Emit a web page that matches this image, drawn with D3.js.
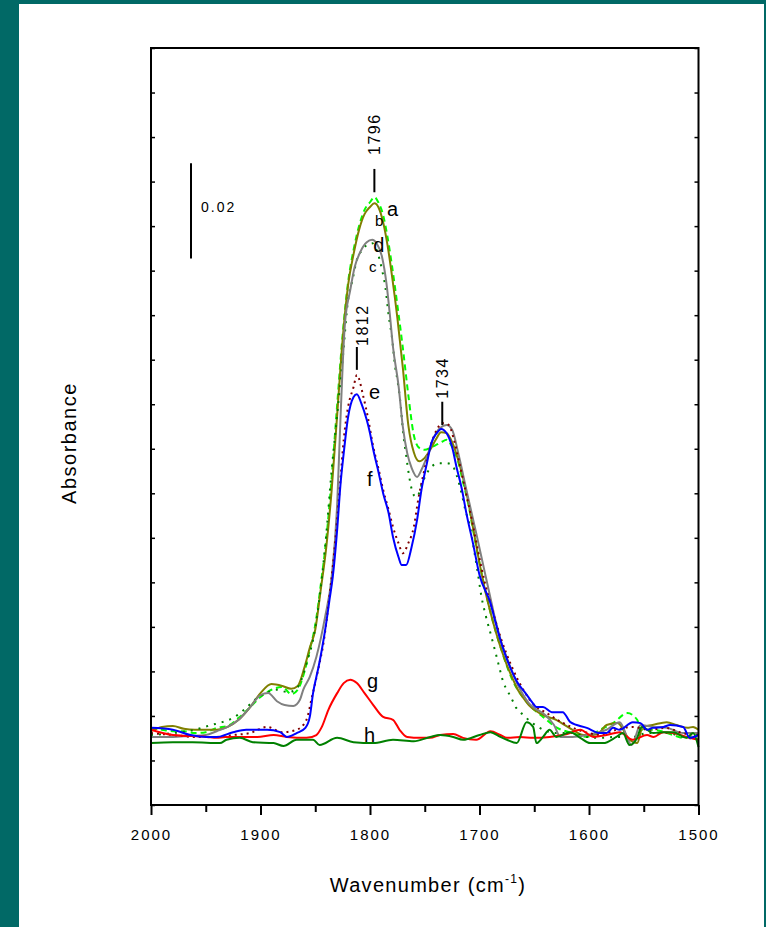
<!DOCTYPE html>
<html>
<head>
<meta charset="utf-8">
<script src="https://cdn.jsdelivr.net/npm/d3@7"></script>
<style>
body{margin:0;background:#fff}
svg{display:block}
text{font-family:"Liberation Sans",Arial,sans-serif;fill:#000}
</style>
</head>
<body>
<script>
// spectra: [wavenumber, absorbance]
const curveA=[[2000,0.0155],[1990,0.0164],[1980,0.0166],[1970,0.0160],[1960,0.0158],[1950,0.0158],[1940,0.0158],[1930,0.0164],[1920,0.0179],[1910,0.0204],[1900,0.0235],[1890,0.0254],[1880,0.0250],[1872,0.0244],[1866,0.0250],[1860,0.0288],[1855,0.0330],[1850,0.0368],[1845,0.0452],[1840,0.0540],[1835,0.0662],[1830,0.0819],[1825,0.0977],[1820,0.1092],[1815,0.1157],[1810,0.1208],[1805,0.1241],[1800,0.1256],[1796,0.1264],[1792,0.1254],[1788,0.1224],[1784,0.1176],[1780,0.1113],[1775,0.1023],[1770,0.0918],[1765,0.0798],[1760,0.0741],[1755,0.0722],[1750,0.0729],[1745,0.0746],[1740,0.0767],[1735,0.0783],[1730,0.0781],[1725,0.0762],[1720,0.0729],[1715,0.0687],[1710,0.0634],[1705,0.0571],[1700,0.0508],[1695,0.0452],[1690,0.0405],[1685,0.0363],[1680,0.0326],[1675,0.0294],[1670,0.0267],[1665,0.0242],[1660,0.0225],[1655,0.0210],[1650,0.0200],[1640,0.0187],[1630,0.0179],[1625,0.0172],[1615,0.0158],[1605,0.0147],[1596,0.0147],[1590,0.0153],[1584,0.0168],[1574,0.0172],[1563,0.0137],[1556,0.0130],[1551,0.0164],[1542,0.0168],[1529,0.0174],[1520,0.0168],[1510,0.0162],[1505,0.0164],[1500,0.0158]]
const curveB=[[2000,0.0162],[1990,0.0158],[1980,0.0155],[1970,0.0155],[1960,0.0151],[1950,0.0153],[1940,0.0162],[1930,0.0166],[1920,0.0183],[1910,0.0204],[1900,0.0227],[1890,0.0242],[1880,0.0248],[1872,0.0233],[1866,0.0242],[1860,0.0279],[1855,0.0326],[1850,0.0378],[1845,0.0462],[1840,0.0557],[1835,0.0687],[1830,0.0840],[1825,0.0987],[1820,0.1098],[1815,0.1166],[1810,0.1216],[1805,0.1250],[1800,0.1266],[1796,0.1277],[1792,0.1264],[1788,0.1239],[1784,0.1193],[1780,0.1134],[1775,0.1050],[1770,0.0960],[1765,0.0861],[1760,0.0777],[1755,0.0750],[1750,0.0746],[1745,0.0750],[1740,0.0756],[1735,0.0762],[1730,0.0767],[1725,0.0752],[1720,0.0725],[1715,0.0678],[1710,0.0630],[1705,0.0567],[1700,0.0508],[1690,0.0405],[1680,0.0326],[1670,0.0263],[1660,0.0225],[1650,0.0200],[1642,0.0185],[1629,0.0162],[1615,0.0151],[1602,0.0143],[1590,0.0158],[1578,0.0172],[1565,0.0193],[1556,0.0179],[1553,0.0158],[1542,0.0158],[1523,0.0147],[1514,0.0141],[1500,0.0151]]
const curveC=[[2000,0.0147],[1980,0.0151],[1960,0.0158],[1945,0.0168],[1935,0.0174],[1925,0.0183],[1915,0.0200],[1905,0.0221],[1895,0.0235],[1885,0.0242],[1875,0.0237],[1868,0.0242],[1862,0.0267],[1857,0.0305],[1852,0.0347],[1845,0.0456],[1840,0.0567],[1835,0.0704],[1830,0.0819],[1825,0.0935],[1820,0.1061],[1816,0.1103],[1812,0.1145],[1807,0.1166],[1803,0.1176],[1798,0.1180],[1794,0.1166],[1789,0.1124],[1786,0.1088],[1783,0.1029],[1780,0.0983],[1777,0.0920],[1775,0.0893],[1772,0.0840],[1770,0.0788],[1767,0.0735],[1764,0.0687],[1760,0.0651],[1757,0.0647],[1753,0.0672],[1748,0.0697],[1744,0.0710],[1737,0.0718],[1730,0.0718],[1725,0.0714],[1721,0.0693],[1716,0.0651],[1713,0.0620],[1709,0.0588],[1705,0.0536],[1702,0.0494],[1698,0.0435],[1694,0.0395],[1690,0.0361],[1686,0.0326],[1682,0.0290],[1678,0.0256],[1675,0.0242],[1671,0.0225],[1667,0.0206],[1660,0.0189],[1645,0.0162],[1630,0.0151],[1615,0.0151],[1602,0.0143],[1590,0.0141],[1575,0.0143],[1560,0.0143],[1547,0.0151],[1529,0.0151],[1514,0.0143],[1500,0.0137]]
const curveD=[[2000,0.0143],[1990,0.0143],[1980,0.0143],[1965,0.0145],[1950,0.0147],[1940,0.0155],[1930,0.0164],[1920,0.0179],[1910,0.0204],[1900,0.0231],[1893,0.0235],[1885,0.0218],[1878,0.0210],[1870,0.0208],[1864,0.0221],[1861,0.0242],[1855,0.0269],[1849,0.0311],[1841,0.0395],[1835,0.0479],[1830,0.0630],[1827,0.0809],[1823,0.1008],[1818,0.1082],[1814,0.1130],[1809,0.1161],[1803,0.1182],[1798,0.1187],[1794,0.1180],[1789,0.1151],[1785,0.1096],[1782,0.1033],[1779,0.0962],[1774,0.0882],[1770,0.0794],[1766,0.0739],[1762,0.0708],[1757,0.0689],[1753,0.0704],[1748,0.0731],[1742,0.0771],[1736,0.0792],[1730,0.0798],[1725,0.0788],[1719,0.0735],[1712,0.0662],[1703,0.0571],[1695,0.0487],[1690,0.0435],[1685,0.0384],[1680,0.0342],[1675,0.0309],[1670,0.0279],[1665,0.0252],[1660,0.0231],[1655,0.0214],[1650,0.0204],[1640,0.0189],[1632,0.0168],[1626,0.0143],[1615,0.0143],[1602,0.0147],[1584,0.0158],[1572,0.0174],[1561,0.0126],[1553,0.0168],[1542,0.0164],[1529,0.0162],[1514,0.0151],[1500,0.0151]]
const curveE=[[2000,0.0151],[1980,0.0147],[1960,0.0143],[1940,0.0143],[1925,0.0147],[1910,0.0151],[1894,0.0164],[1880,0.0153],[1867,0.0158],[1858,0.0179],[1853,0.0227],[1847,0.0288],[1842,0.0347],[1838,0.0420],[1834,0.0500],[1830,0.0599],[1827,0.0683],[1824,0.0767],[1820,0.0836],[1815,0.0878],[1812,0.0903],[1806,0.0857],[1802,0.0815],[1797,0.0752],[1792,0.0704],[1788,0.0662],[1783,0.0620],[1779,0.0584],[1774,0.0550],[1770,0.0529],[1765,0.0550],[1760,0.0584],[1756,0.0641],[1751,0.0697],[1745,0.0752],[1739,0.0788],[1734,0.0802],[1728,0.0798],[1724,0.0773],[1719,0.0725],[1713,0.0662],[1707,0.0599],[1701,0.0529],[1695,0.0466],[1690,0.0424],[1680,0.0347],[1670,0.0288],[1660,0.0242],[1650,0.0210],[1640,0.0195],[1625,0.0174],[1610,0.0158],[1600,0.0151],[1590,0.0147],[1575,0.0158],[1560,0.0164],[1545,0.0158],[1530,0.0162],[1515,0.0151],[1500,0.0147]]
const curveF=[[2000,0.0162],[1980,0.0158],[1964,0.0147],[1949,0.0143],[1940,0.0143],[1925,0.0153],[1913,0.0158],[1894,0.0158],[1882,0.0153],[1876,0.0143],[1867,0.0151],[1859,0.0162],[1855,0.0185],[1852,0.0235],[1849,0.0269],[1847,0.0290],[1844,0.0326],[1840,0.0382],[1837,0.0431],[1834,0.0479],[1830,0.0578],[1827,0.0672],[1824,0.0739],[1820,0.0815],[1815,0.0857],[1812,0.0863],[1808,0.0844],[1803,0.0809],[1800,0.0781],[1797,0.0746],[1792,0.0697],[1788,0.0655],[1783,0.0613],[1779,0.0563],[1774,0.0521],[1771,0.0504],[1767,0.0504],[1762,0.0542],[1757,0.0599],[1753,0.0662],[1748,0.0718],[1744,0.0760],[1739,0.0781],[1735,0.0790],[1730,0.0781],[1725,0.0752],[1721,0.0710],[1716,0.0662],[1712,0.0613],[1706,0.0550],[1700,0.0483],[1690,0.0424],[1686,0.0389],[1681,0.0347],[1677,0.0319],[1671,0.0284],[1665,0.0256],[1658,0.0235],[1652,0.0216],[1648,0.0206],[1642,0.0206],[1634,0.0195],[1624,0.0195],[1617,0.0174],[1602,0.0162],[1590,0.0151],[1584,0.0151],[1578,0.0162],[1572,0.0158],[1560,0.0174],[1553,0.0172],[1547,0.0158],[1542,0.0162],[1532,0.0164],[1526,0.0168],[1514,0.0164],[1508,0.0141],[1500,0.0147]]
const curveG=[[2000,0.0158],[1980,0.0147],[1949,0.0143],[1940,0.0141],[1932,0.0143],[1916,0.0143],[1903,0.0143],[1888,0.0147],[1876,0.0143],[1858,0.0141],[1849,0.0147],[1844,0.0164],[1838,0.0200],[1830,0.0235],[1824,0.0256],[1818,0.0263],[1812,0.0256],[1805,0.0235],[1797,0.0210],[1788,0.0185],[1779,0.0179],[1773,0.0158],[1766,0.0143],[1754,0.0141],[1745,0.0141],[1736,0.0147],[1724,0.0149],[1715,0.0141],[1703,0.0137],[1690,0.0155],[1681,0.0147],[1675,0.0141],[1663,0.0143],[1651,0.0141],[1636,0.0143],[1620,0.0149],[1608,0.0158],[1596,0.0143],[1584,0.0147],[1572,0.0153],[1560,0.0137],[1547,0.0147],[1541,0.0143],[1532,0.0153],[1523,0.0151],[1511,0.0143],[1500,0.0137]]
const curveH=[[2000,0.0130],[1980,0.0132],[1962,0.0132],[1937,0.0130],[1931,0.0137],[1919,0.0141],[1907,0.0132],[1888,0.0130],[1879,0.0124],[1867,0.0137],[1852,0.0137],[1846,0.0126],[1830,0.0141],[1815,0.0132],[1797,0.0130],[1779,0.0137],[1760,0.0134],[1745,0.0143],[1736,0.0147],[1724,0.0143],[1715,0.0137],[1700,0.0147],[1690,0.0153],[1681,0.0143],[1675,0.0137],[1666,0.0130],[1657,0.0174],[1651,0.0164],[1648,0.0130],[1642,0.0143],[1636,0.0158],[1630,0.0143],[1617,0.0153],[1608,0.0141],[1599,0.0130],[1587,0.0130],[1575,0.0143],[1569,0.0151],[1563,0.0126],[1556,0.0141],[1552,0.0164],[1541,0.0151],[1532,0.0153],[1523,0.0153],[1511,0.0141],[1505,0.0151],[1500,0.0122]]

const xTicks=[2000,1900,1800,1700,1600,1500]
const xMinor=[1950,1850,1750,1650,1550]
// curve tags: letter, wavenumber and absorbance of the text baseline
const tagNames=["a","b","c","d","e","f","g","h"]
const tagWn=[1784.5,1795.4,1800.9,1797,1800.9,1802.7,1802.7,1805.5]
const tagAbs=[0.1237,0.1216,0.1120,0.1161,0.0853,0.0670,0.0246,0.0132]
// peak markers
const peakWn=[1796,1812,1734]
const peakLow=[0.1287,0.0914,0.0798]
const peakHigh=[0.1336,0.0962,0.0847]
const scaleBarBase=0.1148, scaleBarLen=0.02

const W=766,H=927
const svg=d3.select("body").append("svg").attr("width",W).attr("height",H)
svg.append("rect").attr("width",W).attr("height",H).attr("fill","#016966")
svg.append("rect").attr("x",19).attr("y",4).attr("width",745).attr("height",H).attr("fill","#fff")

const x=d3.scaleLinear().domain([2000,1500]).range([151,698.5])
const y=d3.scaleLinear().domain([0,0.159]).range([805,48])
const yTicks=d3.range(18).map(i=>i*0.159/17)

const series=[
	{d:curveB,c:"#00ff00",dash:"6,4"},
	{d:curveA,c:"#808000",dash:null},
	{d:curveC,c:"#008000",dash:"2,6"},
	{d:curveD,c:"#808080",dash:null},
	{d:curveE,c:"#800000",dash:"2,4"},
	{d:curveG,c:"#ff0000",dash:null},
	{d:curveH,c:"#008000",dash:null},
	{d:curveF,c:"#0000ff",dash:null}
]
const line=d3.line().x(d=>x(d[0])).y(d=>y(d[1])).curve(d3.curveMonotoneX)
svg.append("g").selectAll("path").data(series).enter().append("path")
	.attr("d",s=>line(s.d))
	.attr("fill","none")
	.attr("stroke",s=>s.c)
	.attr("stroke-width",2)
	.attr("stroke-dasharray",s=>s.dash)

// axes
const gx=svg.append("g").attr("transform","translate(0,805)")
	.call(d3.axisBottom(x).tickValues(xTicks).tickSize(10).tickSizeOuter(0).tickFormat(d3.format("d")))
gx.select(".domain").remove()
gx.selectAll("line").attr("stroke","#000").attr("stroke-width",2)
gx.selectAll("text").attr("y",24).attr("font-size",15).attr("letter-spacing","2px").attr("fill","#000")
const gm=svg.append("g").attr("transform","translate(0,805)")
	.call(d3.axisBottom(x).tickValues(xMinor).tickSize(7).tickSizeOuter(0).tickFormat(""))
gm.select(".domain").remove()
gm.selectAll("line").attr("stroke","#000").attr("stroke-width",2)

const gl=svg.append("g").attr("transform","translate(151,0)")
	.call(d3.axisRight(y).tickValues(yTicks).tickSize(4).tickSizeOuter(0).tickFormat(""))
gl.select(".domain").remove()
gl.selectAll("line").attr("stroke","#000").attr("stroke-width",1.5)
const gr=svg.append("g").attr("transform","translate(698.5,0)")
	.call(d3.axisLeft(y).tickValues(yTicks).tickSize(4).tickSizeOuter(0).tickFormat(""))
gr.select(".domain").remove()
gr.selectAll("line").attr("stroke","#000").attr("stroke-width",1.5)

svg.append("rect").attr("x",151).attr("y",48).attr("width",547.5).attr("height",757)
	.attr("fill","none").attr("stroke","#000").attr("stroke-width",2)

// titles
const xt=svg.append("text").attr("x",428).attr("y",892).attr("text-anchor","middle")
	.attr("font-size",20).attr("letter-spacing","1.3px")
xt.append("tspan").text("Wavenumber (cm")
xt.append("tspan").attr("font-size",12).attr("dy",-9).text("-1")
xt.append("tspan").attr("dy",9).text(")")
svg.append("text").attr("transform","translate(76,443) rotate(-90)").attr("text-anchor","middle")
	.attr("font-size",20).attr("letter-spacing","1.5px").text("Absorbance")

// scale bar
svg.append("line").attr("x1",191).attr("x2",191)
	.attr("y1",y(scaleBarBase)).attr("y2",y(scaleBarBase+scaleBarLen))
	.attr("stroke","#000").attr("stroke-width",2)
svg.append("text").attr("x",201).attr("y",212).attr("font-size",14).attr("letter-spacing","2px").text("0.02")

// peak markers
const peakGap=[14,1,3]
const peakDx=[5.5,11,5.5]
const pk=svg.append("g").selectAll("g").data(peakWn).enter().append("g")
pk.append("line")
	.attr("x1",d=>x(d)).attr("x2",d=>x(d))
	.attr("y1",(d,i)=>y(peakLow[i])).attr("y2",(d,i)=>y(peakHigh[i]))
	.attr("stroke","#000").attr("stroke-width",2)
pk.append("text")
	.attr("transform",(d,i)=>"translate("+(x(d)+peakDx[i])+","+(y(peakHigh[i])-peakGap[i])+") rotate(-90)")
	.attr("font-size",16).attr("letter-spacing","1.5px")
	.text(d=>d)

// curve tags
svg.append("g").selectAll("text").data(tagNames).enter().append("text")
	.attr("x",(d,i)=>x(tagWn[i]))
	.attr("y",(d,i)=>y(tagAbs[i]))
	.attr("font-size",(d)=>(d=="b"||d=="c")?15:20)
	.text(d=>d)
</script>
</body>
</html>
